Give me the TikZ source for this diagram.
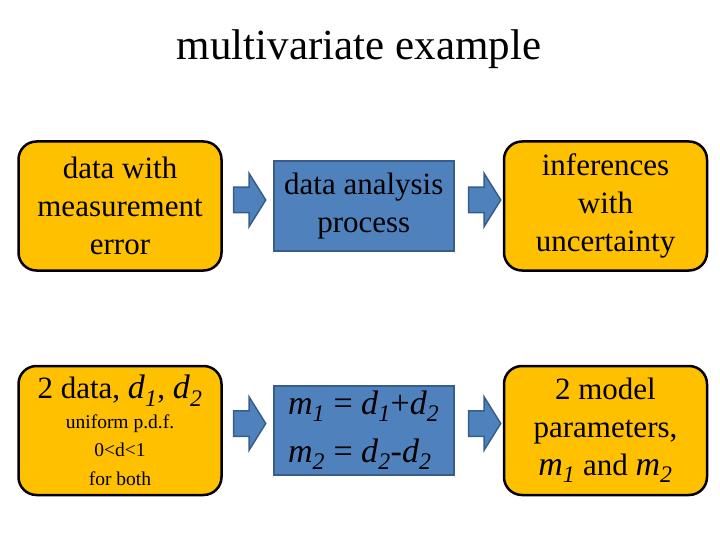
\documentclass[tikz,border=0pt]{standalone}
\usepackage{fontspec}
\setmainfont{Liberation Serif}
\usetikzlibrary{positioning,shapes.arrows,calc}
\definecolor{Amber}{HTML}{FFC000}
\definecolor{Steel}{HTML}{4F81BD}
\definecolor{SteelEdge}{HTML}{385D8A}
\newcommand{\mvar}[2]{\textit{#1}\textsubscript{\textit{#2}}}
\newcommand{\bigvar}[2]{{\fontsize{34}{38}\selectfont\mvar{#1}{#2}}}

\begin{document}
\begin{tikzpicture}[x=1pt, y=-1pt, node distance=50pt,
    inbox/.style={fill=Amber, draw=black, line width=2.5pt, rounded corners=18pt, minimum width=203pt, minimum height=129pt, inner sep=0pt, align=center, font=\fontsize{31}{38}\selectfont},
    procbox/.style={fill=Steel, draw=SteelEdge, line width=2pt, minimum width=180pt, minimum height=89pt, inner sep=0pt, font=\fontsize{31}{38}\selectfont},
    blockarrow/.style={single arrow, fill=Steel, draw=SteelEdge, line width=1.5pt, single arrow head extend=14pt, single arrow tip angle=116, inner xsep=0pt, inner ysep=12pt, minimum height=32pt}]
    \useasboundingbox (0,0) rectangle (720,540);
    \node[font=\fontsize{43}{50}\selectfont, anchor=base] (title) at (359,60) {multivariate example};

    \node[inbox] (data) at (120,206) {data with\\measurement\\error};
    \node[procbox, align=center, right=50pt of data] (proc) {data analysis\\process};
    \node[inbox, right=48pt of proc] (infer) {inferences\\with\\uncertainty};

    \node[inbox, font=\fontsize{19.5}{28.5}\selectfont, below=93pt of data] (pair) {
      {\fontsize{31}{38}\selectfont 2 data, \bigvar{d}{1}, \bigvar{d}{2}}\\[1pt]
      uniform p.d.f.\\0<d<1\\for both
    };
    \node[procbox, align=left, font=\fontsize{34}{48}\selectfont, right=50pt of pair] (sums) {
      \mvar{m}{1} = \mvar{d}{1}+\mvar{d}{2}\\
      \mvar{m}{2} = \mvar{d}{2}-\mvar{d}{2}
    };
    \node[inbox, right=48pt of sums] (param) {2 model\\parameters,\\\bigvar{m}{1} and \bigvar{m}{2}};

    \node[blockarrow, yshift=6pt, xshift=-2pt] (a1) at ($(data.east)!0.5!(proc.west)$) {};
    \node[blockarrow, yshift=6pt, xshift=2pt] (a2) at ($(proc.east)!0.5!(infer.west)$) {};
    \node[blockarrow, yshift=7pt, xshift=-2pt] (a3) at ($(pair.east)!0.5!(sums.west)$) {};
    \node[blockarrow, yshift=7pt, xshift=2pt] (a4) at ($(sums.east)!0.5!(param.west)$) {};
  \end{tikzpicture}
\end{document}
